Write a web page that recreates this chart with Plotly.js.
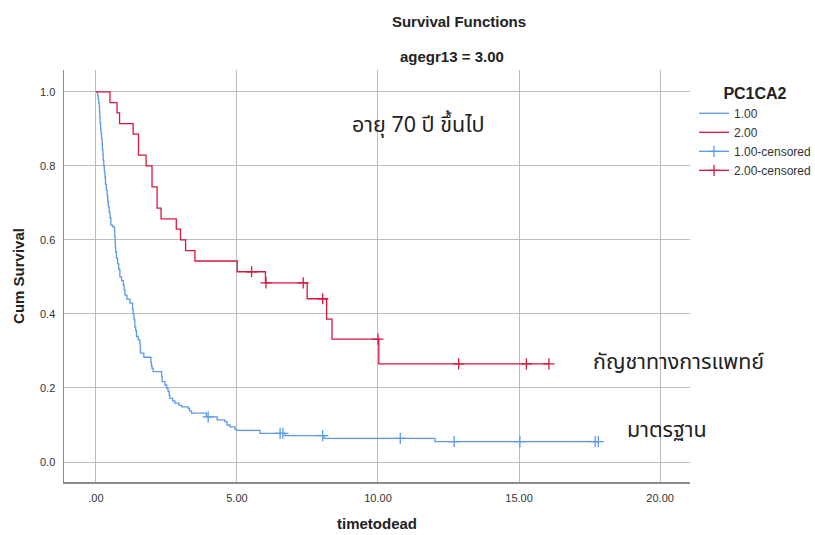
<!DOCTYPE html>
<html>
<head>
<meta charset="utf-8">
<script src="https://cdn.plot.ly/plotly-3.0.1.min.js"></script>
<style>html,body{margin:0;padding:0;background:#fff;}#chart{width:815px;height:535px;}</style>
</head>
<body>
<div id="chart"></div>
<script>
// ---- data ----
const groupNames = ["1.00", "2.00", "1.00-censored", "2.00-censored"];

const blueTime = [0.06,0.08,0.10,0.12,0.13,0.14,0.15,0.17,0.18,0.20,0.22,0.23,0.25,0.26,0.28,0.30,0.32,0.34,0.37,0.40,0.42,0.44,0.47,0.50,0.53,0.60,0.66,0.67,0.68,0.69,0.70,0.73,0.77,0.81,0.85,0.91,0.97,1.00,1.03,1.10,1.21,1.30,1.32,1.35,1.38,1.41,1.44,1.50,1.56,1.57,1.58,1.70,1.95,1.97,1.99,2.03,2.33,2.35,2.45,2.51,2.56,2.60,2.62,2.72,2.80,2.95,3.04,3.27,3.32,3.39,3.92,4.30,4.57,4.65,4.75,4.93,4.99,5.82,6.70,8.10,12.02];
const blueSurv = [0.99,0.98,0.97,0.96,0.945,0.93,0.915,0.90,0.89,0.875,0.86,0.845,0.83,0.815,0.80,0.785,0.77,0.75,0.735,0.72,0.705,0.69,0.675,0.66,0.64,0.635,0.625,0.61,0.595,0.58,0.568,0.551,0.535,0.52,0.50,0.49,0.478,0.465,0.451,0.44,0.429,0.412,0.40,0.385,0.365,0.355,0.339,0.33,0.32,0.305,0.294,0.283,0.27,0.26,0.253,0.244,0.23,0.217,0.208,0.199,0.19,0.18,0.172,0.165,0.159,0.153,0.149,0.145,0.138,0.132,0.122,0.114,0.109,0.10,0.095,0.088,0.0857,0.0776,0.0711,0.064,0.055];
const blueCensTime = [3.98,6.53,6.63,8.04,10.79,12.70,15.03,17.70,17.81];
const blueCensSurv = [0.122,0.0776,0.0776,0.0711,0.064,0.055,0.055,0.055,0.055];

const redTime = [0.50,0.75,0.84,1.32,1.51,1.78,1.99,2.17,2.31,2.85,3.00,3.18,3.51,5.01,6.01,7.49,8.18,8.37,10.03];
const redSurv = [0.971,0.943,0.914,0.886,0.829,0.800,0.743,0.686,0.657,0.629,0.600,0.571,0.543,0.514,0.484,0.441,0.386,0.332,0.265];
const redCensTime = [5.52,6.03,7.35,8.04,10.00,12.86,15.26,16.06];
const redCensSurv = [0.514,0.484,0.484,0.441,0.332,0.265,0.265,0.265];

const xTickVals = [0, 5, 10, 15, 20];
const xTickText = [".00", "5.00", "10.00", "15.00", "20.00"];
const yTickVals = [0, 0.2, 0.4, 0.6, 0.8, 1.0];
const yTickText = ["0.0", "0.2", "0.4", "0.6", "0.8", "1.0"];

// ---- build traces ----
const BLUE = "#5b9be6";
const RED = "#d8173f";

function stepXY(times, surv, censT) {
  const end = Math.max(times[times.length - 1], Math.max.apply(null, censT));
  return {
    x: [0].concat(times, [end]),
    y: [1].concat(surv, [surv[surv.length - 1]])
  };
}
function gapped(arr) {
  const out = [];
  arr.forEach((v, i) => { if (i) out.push(null); out.push(v); });
  return out;
}
const bStep = stepXY(blueTime, blueSurv, blueCensTime);
const rStep = stepXY(redTime, redSurv, redCensTime);

const traces = [
  {x: bStep.x, y: bStep.y, type: "scatter", mode: "lines", name: groupNames[0],
   line: {color: BLUE, width: 1.3, shape: "hv"}, hoverinfo: "skip"},
  {x: rStep.x, y: rStep.y, type: "scatter", mode: "lines", name: groupNames[1],
   line: {color: RED, width: 1.3, shape: "hv"}, hoverinfo: "skip"},
  {x: gapped(blueCensTime), y: gapped(blueCensSurv), type: "scatter", mode: "lines+markers",
   connectgaps: false, name: groupNames[2], line: {color: BLUE, width: 1.3},
   marker: {symbol: "cross-thin", size: 8, color: BLUE, line: {color: BLUE, width: 1.3}}, hoverinfo: "skip"},
  {x: gapped(redCensTime), y: gapped(redCensSurv), type: "scatter", mode: "lines+markers",
   connectgaps: false, name: groupNames[3], line: {color: RED, width: 1.3},
   marker: {symbol: "cross-thin", size: 8, color: RED, line: {color: RED, width: 1.3}}, hoverinfo: "skip"}
];

// pixel helpers for paper coords (plot area: l=64, r=690, t=70, b=482)
const PL = 64, PR = 690, PT = 70, PB = 482;
const px = v => (v - PL) / (PR - PL);
const py = v => (PB - v) / (PB - PT);

const FONT = "Liberation Sans, Arial, sans-serif";
const THAI = "Noto Sans Thai, Noto Sans Thai UI, Tahoma, Loma, Noto Sans, sans-serif";

const whiteBox = (x0, x1, y0, y1) => ({
  type: "rect", xref: "paper", yref: "paper", layer: "between",
  x0: px(x0), x1: px(x1), y0: py(y1), y1: py(y0),
  fillcolor: "#ffffff", line: {width: 0}
});

const layout = {
  width: 815, height: 535,
  margin: {l: PL, r: 815 - PR, t: PT, b: 535 - PB, pad: 0, autoexpand: false},
  paper_bgcolor: "#ffffff", plot_bgcolor: "#ffffff",
  font: {family: FONT, size: 11, color: "#333333"},
  title: {text: "<b>Survival Functions</b>", font: {family: FONT, size: 15, color: "#222"},
          x: 459 / 815, xanchor: "center", y: 1 - 22 / 535, yanchor: "middle", xref: "container", yref: "container"},
  xaxis: {
    range: [-1.13, 21.06], tickvals: xTickVals, ticktext: xTickText,
    showgrid: true, gridcolor: "#bdbdbd", gridwidth: 1, zeroline: false,
    showline: true, linecolor: "#8c8c8c", linewidth: 1.5, mirror: false,
    ticks: "outside", ticklen: 5, tickcolor: "rgba(0,0,0,0)",
    tickfont: {family: FONT, size: 11, color: "#333"},
    title: {text: "<b>timetodead</b>", font: {family: FONT, size: 15, color: "#222"}, standoff: 16}
  },
  yaxis: {
    range: [-0.054, 1.059], tickvals: yTickVals, ticktext: yTickText,
    showgrid: true, gridcolor: "#bdbdbd", gridwidth: 1, zeroline: false,
    showline: true, linecolor: "#8c8c8c", linewidth: 1.5, mirror: false,
    ticks: "outside", ticklen: 5, tickcolor: "rgba(0,0,0,0)",
    tickfont: {family: FONT, size: 11, color: "#333"},
    title: {text: "<b>Cum Survival</b>", font: {family: FONT, size: 15, color: "#222"}, standoff: 12}
  },
  showlegend: true,
  legend: {
    x: px(694), xanchor: "left", y: py(78), yanchor: "top",
    bgcolor: "rgba(0,0,0,0)", borderwidth: 0,
    font: {family: FONT, size: 12, color: "#333"},
    itemwidth: 30, tracegroupgap: 0,
    title: {text: "<b>PC1CA2</b>", font: {family: FONT, size: 16, color: "#222"}, side: "top center"}
  },
  shapes: [
    whiteBox(300, 540, 93, 146),
    whiteBox(573, 815, 330, 400),
    whiteBox(610, 815, 400, 458)
  ],
  annotations: [
    {text: "<b>agegr13 = 3.00</b>", xref: "paper", yref: "paper", x: px(452), y: py(57),
     xanchor: "center", yanchor: "middle", showarrow: false, font: {family: FONT, size: 15, color: "#222"}},
    {text: "อายุ 70 ปี ขึ้นไป", xref: "paper", yref: "paper", x: px(418), y: py(125),
     xanchor: "center", yanchor: "middle", showarrow: false, font: {family: THAI, size: 21.5, color: "#222"}},
    {text: "กัญชาทางการแพทย์", xref: "paper", yref: "paper", x: px(678), y: py(362),
     xanchor: "center", yanchor: "middle", showarrow: false, font: {family: THAI, size: 21.5, color: "#222"}},
    {text: "มาตรฐาน", xref: "paper", yref: "paper", x: px(667), y: py(430),
     xanchor: "center", yanchor: "middle", showarrow: false, font: {family: THAI, size: 21.5, color: "#222"}}
  ]
};

Plotly.newPlot("chart", traces, layout, {displayModeBar: false, staticPlot: true});
</script>
</body>
</html>
